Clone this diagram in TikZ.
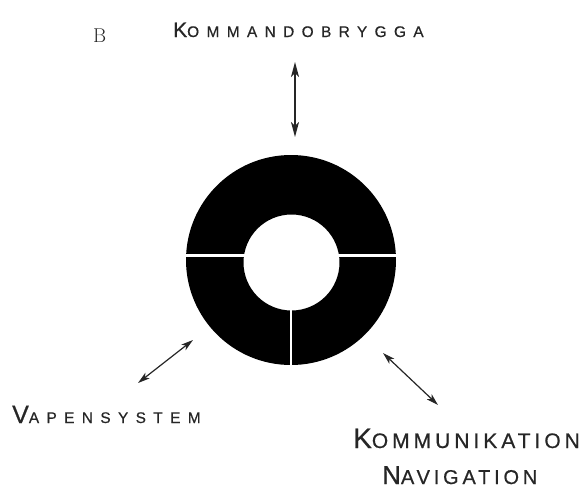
\documentclass[tikz,border=0pt]{standalone}
\usepackage{fontspec}
\usetikzlibrary{arrows.meta}
\newfontfamily\lettera[LetterSpace=48,FakeBold=0.6]{Liberation Sans}
\newfontfamily\letterb[LetterSpace=19,FakeBold=0.6]{Liberation Sans}
\tikzset{
  label/.style={inner sep=0pt, text=black!85},
  link/.style={line width=1.2pt, black!85, {Stealth[length=15pt,width=8pt,inset=4pt]}-{Stealth[length=15pt,width=8pt,inset=4pt]}},
  shortlink/.style={link, {Stealth[length=12pt,width=7pt,inset=3pt]}-{Stealth[length=12pt,width=7pt,inset=3pt]}},
  gap/.style={white, line width=3pt}
}
\begin{document}
\begin{tikzpicture}[x=1pt,y=-1pt]
\useasboundingbox (0,0) rectangle (581,488);
% ring
\fill[black, even odd rule] (291,260) circle[radius=105] (291.5,262.5) circle[radius=48];
\draw[gap] (180,255) -- (402,255);
\draw[gap, line width=2.6pt] (291,300) -- (291,372);
% labels
\node[label, anchor=base west] (b) at (93,42) {\fontsize{20}{24}\selectfont B};
\node[label, anchor=base west] (kmd) at (173,37) {\lettera\fontsize{21}{24}\selectfont K\fontsize{15.4}{18}\selectfont OMMANDOBRYGGA};
\node[label, anchor=base west] (vap) at (12,423) {\lettera\fontsize{25}{28}\selectfont V\fontsize{15.4}{18}\selectfont APENSYSTEM};
\node[label, anchor=base west] (kom) at (353,448) {\letterb\fontsize{28}{30}\selectfont K\fontsize{21}{24}\selectfont OMMUNIKATION};
\node[label, anchor=base west] (nav) at (382,484) {\letterb\fontsize{26}{30}\selectfont N\fontsize{20}{24}\selectfont AVIGATION};
% connector ends
\coordinate (kt) at (295,62);
\coordinate (kb) at (295,137);
\coordinate (vt) at (138,383);
\coordinate (vb) at (193,340);
\coordinate (nt) at (383,353);
\coordinate (nb) at (438,405);
\draw[link] (kt) -- (kb);
\draw[shortlink] (vt) -- (vb);
\draw[shortlink] (nt) -- (nb);
\end{tikzpicture}
\end{document}
